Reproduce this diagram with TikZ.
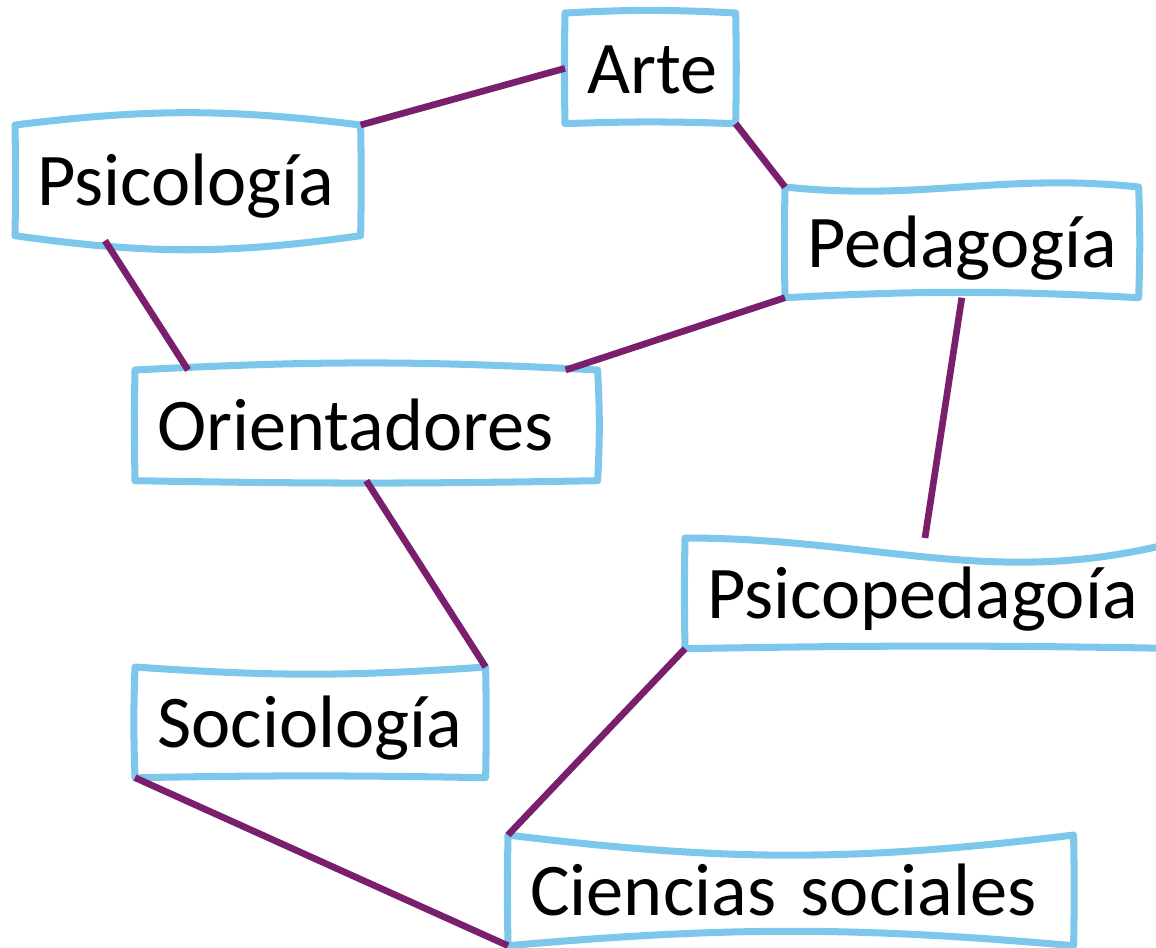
\documentclass[tikz,border=0pt]{standalone}
\usepackage{fontspec}
\setmainfont{Carlito}
\usepackage{tikz}
\definecolor{skyline}{HTML}{7DC8EA}
\definecolor{plum}{HTML}{7A1E6E}
% hand drawn outline round a named node: top, right, bottom, left edge options
\newcommand{\sketchbox}[5]{\draw[bline] (#1.north west) to[#2] (#1.north east)
  to[#3] (#1.south east) to[#4] (#1.south west) to[#5] (#1.north west);}

\begin{document}
\begin{tikzpicture}[x=0.02cm, y=0.02cm]
\tikzstyle{tb}=[anchor=north west, inner xsep=0.44cm, inner ysep=0pt, text height=1.6cm,
  text depth=0.6cm, align=left, font=\fontsize{42.3}{50}\selectfont]
\tikzstyle{bline}=[draw=skyline, line width=4pt, line cap=round, line join=round]
\tikzstyle{link}=[draw=plum, line width=3.8pt]
\useasboundingbox (0,0) rectangle (1156,-947);
\node[tb, text width=2.52cm] (arte) at (565,-13) {Arte};
\node[tb, text width=6.02cm] (psico) at (15,-125) {Psicología};
\node[tb, text width=6.18cm] (ped) at (785,-187) {Pedagogía};
\node[tb, text width=8.36cm] (orient) at (135,-370) {Orientadores};
\node[tb, text width=9.22cm] (psped) at (685,-538) {Psicopedagoía};
\node[tb, text width=6.12cm] (socio) at (135,-667) {Sociología};
\node[tb, text width=10.42cm] (cien) at (508,-835) {Ciencias sociales};
% outlines
\sketchbox{arte}{bend left=3}{bend left=1}{bend right=2}{bend left=1}
\sketchbox{psico}{bend left=7}{bend left=1}{bend left=8}{bend right=1}
\sketchbox{ped}{out=-6, in=174}{bend left=2}{bend right=3}{bend left=1}
\sketchbox{orient}{bend left=3}{bend left=3}{bend left=1}{bend left=1}
\sketchbox{psped}{out=0, in=196}{bend left=1}{bend right=1}{bend left=1}
\sketchbox{socio}{bend right=4}{bend left=1}{bend right=1}{bend left=2}
\sketchbox{cien}{bend right=7}{bend left=1}{bend right=5}{bend left=1}
% links
\draw[link] (psico.north east) -- (arte.west);
\draw[link] (arte.south east) -- (ped.north west);
\draw[link] ([xshift=1.8cm, yshift=-0.1cm]psico.south west) -- ([xshift=1.06cm]orient.north west);
\draw[link] (ped.south west) -- ([xshift=-0.64cm]orient.north east);
\draw[link] (ped.south) -- ([xshift=4.8cm]psped.north west);
\draw[link] (orient.south) -- (socio.north east);
\draw[link] (psped.south west) -- (cien.north west);
\draw[link] (socio.south west) -- (cien.south west);
\end{tikzpicture}
\end{document}
